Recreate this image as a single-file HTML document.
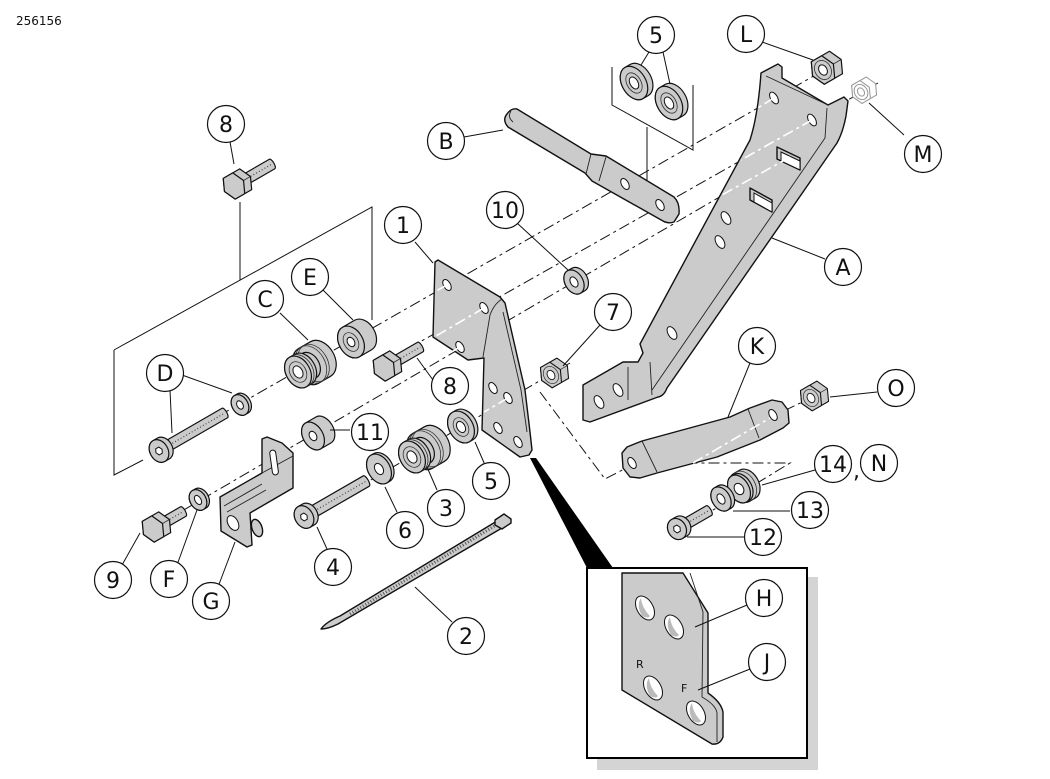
<!DOCTYPE html>
<html><head><meta charset="utf-8">
<style>
html,body{margin:0;padding:0;background:#fff;}
svg{display:block;}
text{font-family:"DejaVu Sans","Liberation Sans",sans-serif;fill:#111;}
.p path,.p ellipse,.p polygon,.p rect{fill:#cbcbcb;stroke:#111;stroke-width:1.2;stroke-linejoin:round;}
.p .h,.h{fill:#fff;stroke:#111;stroke-width:1;}
.p .n{fill:none;stroke:#333;stroke-width:0.8;}
.p .t{fill:none;stroke:#444;stroke-dasharray:1 2.2;}
.big{fill:#cbcbcb;stroke:#111;stroke-width:1.4;stroke-linejoin:round;}
.fl{fill:none;stroke:#222;stroke-width:0.9;}
.d{fill:none;stroke:#111;stroke-width:1;stroke-dasharray:11 4 3 4;}
.w{fill:none;stroke:#fff;stroke-width:1.6;stroke-dasharray:11 4 3 4;}
.ld{fill:none;stroke:#111;stroke-width:1;}
.c circle{fill:#fff;stroke:#111;stroke-width:1.2;}
.c text{font-size:22px;text-anchor:middle;}
</style></head><body>
<svg width="1050" height="779" viewBox="0 0 1050 779" xmlns="http://www.w3.org/2000/svg">
<text x="16" y="25" font-size="12">256156</text>

<path class="ld" d="M612,67 V105 L693,150 V85 M647,127 V182"/>
<path class="ld" d="M114,350 V475 L143,460 M114,350 L372,207 V320 M240,202 V280"/>

<path class="d" d="M840,61 L222,414"/>
<path class="d" d="M878,83 L418,343"/>
<path class="d" d="M800,150 L170,518"/>
<path class="d" d="M570,363 L364,484"/>
<path class="d" d="M540,392 L605,479 L634,464"/>
<path class="d" d="M700,518 L790,463 L693,463 L773,416 L815,396"/>

<!-- Bracket A -->
<path class="big" d="M761,73 L778,64 L782,67 L782,78 L828,105 L844,97 L848,101 L846,116 Q843,132 837,143 L667,388 Q664,396 658,397 L590,422 L583,420 L583,385 L623,362 L638,362 L643,353 L640,344 L750,140 Q758,115 761,73 Z"/>
<path class="fl" d="M827,108 L825,138 L652,390 M628,367 V400 M650,362 L652,395 M766,76 L828,105"/>
<g>
<ellipse class="h" cx="774" cy="98" rx="3.5" ry="6.5" transform="rotate(-30 774 98)"/>
<ellipse class="h" cx="812" cy="120" rx="3.5" ry="6.5" transform="rotate(-30 812 120)"/>
<polygon class="big" points="777,147 800,158 800,170 777,159"/>
<polygon class="h" points="781,152 800,161 800,170 781,161"/>
<polygon class="big" points="750,188 772,200 772,212 750,200"/>
<polygon class="h" points="754,193 772,203 772,212 754,202"/>
<ellipse class="h" cx="726" cy="218" rx="4" ry="7" transform="rotate(-30 726 218)"/>
<ellipse class="h" cx="720" cy="242" rx="4" ry="7" transform="rotate(-30 720 242)"/>
<ellipse class="h" cx="672" cy="333" rx="4" ry="7" transform="rotate(-30 672 333)"/>
<ellipse class="h" cx="599" cy="402" rx="4" ry="7" transform="rotate(-30 599 402)"/>
<ellipse class="h" cx="618" cy="390" rx="4" ry="7" transform="rotate(-30 618 390)"/>
</g>
<path class="w" d="M774,98 L756,109 M812,120 L741,160 M790,157 L722,195"/>

<!-- Bracket B -->
<path class="big" d="M517,109 L591,154 L606,156 L674,197 Q680,203 679,214 L674,222 Q668,224 663,221 L592,181 L585,173 L508,127 Q502,120 507,114 Q511,108 517,109 Z"/>
<path class="fl" d="M591,154 L586,174 M606,157 L599,181 M511,111 Q507,117 513,122"/>
<ellipse class="h" cx="625" cy="184" rx="3.5" ry="6" transform="rotate(-30 625 184)"/>
<ellipse class="h" cx="660" cy="205" rx="3.5" ry="6" transform="rotate(-30 660 205)"/>

<!-- Bracket 1 -->
<path class="big" d="M433,337 L435,262 L438,260 L500,297 L505,303 L525,390 L530,432 L532,450 L529,455 L520,457 L482,430 L484,358 L468,360 Z"/>
<path class="fl" d="M502,299 Q494,304 490,315 L483,357 M503,312 L521,390 L527,432"/>
<g>
<ellipse class="h" cx="447" cy="285" rx="3.5" ry="6" transform="rotate(-30 447 285)"/>
<ellipse class="h" cx="484" cy="308" rx="3.5" ry="6" transform="rotate(-30 484 308)"/>
<ellipse class="h" cx="460" cy="347" rx="3.5" ry="6" transform="rotate(-30 460 347)"/>
<ellipse class="h" cx="493" cy="388" rx="3.5" ry="6" transform="rotate(-30 493 388)"/>
<ellipse class="h" cx="508" cy="398" rx="3.5" ry="6" transform="rotate(-30 508 398)"/>
<ellipse class="h" cx="498" cy="428" rx="3.5" ry="6" transform="rotate(-30 498 428)"/>
<ellipse class="h" cx="518" cy="442" rx="3.5" ry="6" transform="rotate(-30 518 442)"/>
</g>
<path class="w" d="M447,285 L436,291 M484,308 L436,336 M460,347 L448,354 M508,398 L484,412"/>

<!-- Link K -->
<path class="big" d="M622,453 L627,447 L642,441 L730,417 L750,408 L772,400 L782,402 L788,410 L789,423 L783,428 L760,440 L717,457 L657,473 L640,478 L630,477 L623,468 Z"/>
<path class="fl" d="M642,441 L657,472 M748,409 L759,438"/>
<ellipse class="h" cx="632" cy="463" rx="3.5" ry="6" transform="rotate(-30 632 463)"/>
<ellipse class="h" cx="773" cy="415" rx="3.5" ry="6" transform="rotate(-30 773 415)"/>
<path class="w" d="M693,463 L770,418"/>

<!-- Part G -->
<ellipse class="big" cx="257" cy="528" rx="5" ry="9" transform="rotate(-20 257 528)"/>
<path class="big" d="M262,473 L262,439 L267,437 L282,443 L293,453 L293,488 L250,513 L252,545 L247,547 L221,531 L220,497 Z"/>
<path class="fl" d="M224,506 L262,484 M227,512 L266,490 M262,473 L293,456"/>
<rect class="h" x="271" y="450" width="6" height="25" rx="3" transform="rotate(-8 274 462)"/>
<ellipse class="h" cx="233" cy="523" rx="5" ry="8" transform="rotate(-30 233 523)"/>

<!-- Cable tie 2 -->
<path class="big" d="M321,629 Q326,622 340,616 L497,521 L502,528 L338,624 Q328,629 321,629 Z"/>
<path fill="none" stroke="#555" stroke-width="3" stroke-dasharray="1 2" d="M350,614 L496,525"/>
<polygon class="big" points="495,520 504,514 511,519 511,523 502,529 495,525"/>

<!-- Washers 5 top -->
<g class="p" transform="translate(634,83) rotate(-30)"><path d="M0,-18 H6 A12,18 0 0 1 6,18 H0 A12,18 0 0 1 0,-18 Z"/><ellipse rx="12" ry="18"/><ellipse class="n" rx="7" ry="11"/><ellipse class="h" rx="4" ry="6.5"/></g>
<g class="p" transform="translate(669,103) rotate(-30)"><path d="M0,-18 H6 A12,18 0 0 1 6,18 H0 A12,18 0 0 1 0,-18 Z"/><ellipse rx="12" ry="18"/><ellipse class="n" rx="7" ry="11"/><ellipse class="h" rx="4" ry="6.5"/></g>

<!-- Nut L -->
<g class="p" transform="translate(823,70) rotate(-30)"><polygon points="-12,0 -6,-13 15,-13 21,0 15,13 -6,13"/><path class="n" d="M12,0 H21"/><polygon points="12,0 6,13 -6,13 -12,0 -6,-13 6,-13"/><ellipse class="n" rx="8" ry="10"/><ellipse class="h" rx="4" ry="5.5"/></g>
<!-- Nut M -->
<g transform="translate(861,92) rotate(-30) scale(0.8)" fill="#fff" stroke="#999" stroke-width="1.3"><polygon points="-12,0 -6,-13 15,-13 21,0 15,13 -6,13"/><polygon points="12,0 6,13 -6,13 -12,0 -6,-13 6,-13"/><ellipse rx="8" ry="10"/><ellipse rx="4" ry="5.5"/></g>
<!-- Nut 7 -->
<g class="p" transform="translate(551,375) rotate(-30) scale(0.9)"><polygon points="-12,0 -6,-13 15,-13 21,0 15,13 -6,13"/><path class="n" d="M12,0 H21"/><polygon points="12,0 6,13 -6,13 -12,0 -6,-13 6,-13"/><ellipse class="n" rx="8" ry="10"/><ellipse class="h" rx="4" ry="5.5"/></g>
<!-- Nut O -->
<g class="p" transform="translate(811,398) rotate(-30) scale(0.9)"><polygon points="-12,0 -6,-13 15,-13 21,0 15,13 -6,13"/><path class="n" d="M12,0 H21"/><polygon points="12,0 6,13 -6,13 -12,0 -6,-13 6,-13"/><ellipse class="n" rx="8" ry="10"/><ellipse class="h" rx="4" ry="5.5"/></g>

<!-- Washer 10 -->
<g class="p" transform="translate(574,282) rotate(-30)"><path d="M0,-13 H5 A9,13 0 0 1 5,13 H0 A9,13 0 0 1 0,-13 Z"/><ellipse rx="9" ry="13"/><ellipse class="h" rx="3.5" ry="5.5"/></g>

<!-- Bolt 8 top -->
<g class="p" transform="translate(234,186) rotate(-30)"><path d="M12,-5.5 H44 A2,5.5 0 0 1 44,5.5 H12 Z"/><path class="t" stroke-width="10" d="M16,0 H44"/><polygon points="-11,0 -5.5,-12 13.5,-12 19,0 13.5,12 -5.5,12"/><path class="n" d="M11,0 H19"/><polygon points="11,0 5.5,12 -5.5,12 -11,0 -5.5,-12 5.5,-12"/></g>

<!-- Spacer E -->
<g class="p" transform="translate(351,342) rotate(-30)"><path d="M0,-17 H14 A12,17 0 0 1 14,17 H0 A12,17 0 0 1 0,-17 Z"/><ellipse rx="12" ry="17"/><ellipse class="n" rx="7" ry="10"/><ellipse class="h" rx="3.5" ry="5"/></g>

<!-- Grommet C -->
<g class="p" transform="translate(298,372) rotate(-30)"><path d="M12,-20 H26 A14,20 0 0 1 26,20 H12 A14,20 0 0 1 12,-20 Z"/><ellipse class="n" cx="15" rx="14" ry="20"/><ellipse class="n" cx="18" rx="14" ry="20"/><path d="M6,-14 H13 A10,14 0 0 1 13,14 H6 A10,14 0 0 1 6,-14 Z"/><path d="M0,-17 H6 A12,17 0 0 1 6,17 H0 A12,17 0 0 1 0,-17 Z"/><ellipse class="n" cx="3" rx="12" ry="17"/><ellipse rx="12" ry="17"/><ellipse class="n" rx="8" ry="11"/><ellipse class="h" rx="4.5" ry="6.5"/></g>

<!-- Washer D -->
<g class="p" transform="translate(240,405) rotate(-30)"><path d="M0,-11 H3 A8,11 0 0 1 3,11 H0 A8,11 0 0 1 0,-11 Z"/><ellipse rx="8" ry="11"/><ellipse class="h" rx="3" ry="4.5"/></g>
<!-- Bolt D -->
<g class="p" transform="translate(159,451) rotate(-30)"><path d="M4,-5.5 H76 A2,5.5 0 0 1 76,5.5 H4 Z"/><path class="t" stroke-width="10" d="M9,0 H76"/><path d="M0,-12 H5 A9,12 0 0 1 5,12 H0 A9,12 0 0 1 0,-12 Z"/><ellipse rx="9" ry="12"/><polygon class="h" points="3.5,0 1.8,3.5 -1.8,3.5 -3.5,0 -1.8,-3.5 1.8,-3.5"/></g>

<!-- Bolt 8 mid -->
<g class="p" transform="translate(384,368) rotate(-30)"><path d="M12,-5.5 H42 A2,5.5 0 0 1 42,5.5 H12 Z"/><path class="t" stroke-width="10" d="M16,0 H42"/><polygon points="-11,0 -5.5,-12 13.5,-12 19,0 13.5,12 -5.5,12"/><path class="n" d="M11,0 H19"/><polygon points="11,0 5.5,12 -5.5,12 -11,0 -5.5,-12 5.5,-12"/></g>

<!-- Spacer 11 -->
<g class="p" transform="translate(313,436) rotate(-30)"><path d="M0,-15 H12 A10,15 0 0 1 12,15 H0 A10,15 0 0 1 0,-15 Z"/><ellipse rx="10" ry="15"/><ellipse class="h" rx="3.5" ry="5"/></g>

<!-- Washer F -->
<g class="p" transform="translate(198,500) rotate(-30)"><path d="M0,-11 H3 A8,11 0 0 1 3,11 H0 A8,11 0 0 1 0,-11 Z"/><ellipse rx="8" ry="11"/><ellipse class="h" rx="3" ry="5"/></g>
<!-- Bolt 9 -->
<g class="p" transform="translate(153,529) rotate(-30)"><path d="M12,-5.5 H35 A2,5.5 0 0 1 35,5.5 H12 Z"/><path class="t" stroke-width="10" d="M16,0 H35"/><polygon points="-11,0 -5.5,-12 13.5,-12 19,0 13.5,12 -5.5,12"/><path class="n" d="M11,0 H19"/><polygon points="11,0 5.5,12 -5.5,12 -11,0 -5.5,-12 5.5,-12"/></g>

<!-- Washer 5 mid -->
<g class="p" transform="translate(461,427) rotate(-30)"><path d="M0,-17 H4 A12,17 0 0 1 4,17 H0 A12,17 0 0 1 0,-17 Z"/><ellipse rx="12" ry="17"/><ellipse class="n" rx="7" ry="10"/><ellipse class="h" rx="4" ry="6"/></g>
<!-- Grommet 3 -->
<g class="p" transform="translate(412,457) rotate(-30)"><path d="M12,-20 H26 A14,20 0 0 1 26,20 H12 A14,20 0 0 1 12,-20 Z"/><ellipse class="n" cx="15" rx="14" ry="20"/><ellipse class="n" cx="18" rx="14" ry="20"/><path d="M6,-14 H13 A10,14 0 0 1 13,14 H6 A10,14 0 0 1 6,-14 Z"/><path d="M0,-17 H6 A12,17 0 0 1 6,17 H0 A12,17 0 0 1 0,-17 Z"/><ellipse class="n" cx="3" rx="12" ry="17"/><ellipse rx="12" ry="17"/><ellipse class="n" rx="8" ry="11"/><ellipse class="h" rx="4.5" ry="6.5"/></g>
<!-- Washer 6 -->
<g class="p" transform="translate(379,469) rotate(-30)"><path d="M0,-16 H3 A11,16 0 0 1 3,16 H0 A11,16 0 0 1 0,-16 Z"/><ellipse rx="11" ry="16"/><ellipse class="h" rx="4" ry="6"/></g>
<!-- Bolt 4 -->
<g class="p" transform="translate(304,517) rotate(-30)"><path d="M4,-6 H72 A2,6 0 0 1 72,6 H4 Z"/><path class="t" stroke-width="11" d="M9,0 H72"/><path d="M0,-12 H5 A9,12 0 0 1 5,12 H0 A9,12 0 0 1 0,-12 Z"/><ellipse rx="9" ry="12"/><polygon class="h" points="3.5,0 1.8,3.5 -1.8,3.5 -3.5,0 -1.8,-3.5 1.8,-3.5"/></g>

<!-- Grommet 14 -->
<g class="p" transform="translate(739,489) rotate(-30)"><path d="M3,-16 H10 A11,16 0 0 1 10,16 H3 A11,16 0 0 1 3,-16 Z"/><ellipse class="n" cx="6" rx="11" ry="16"/><path d="M0,-15 H3 A10,15 0 0 1 3,15 H0 A10,15 0 0 1 0,-15 Z"/><ellipse rx="10" ry="15"/><ellipse class="h" rx="4.5" ry="6"/></g>
<!-- Washer 13 -->
<g class="p" transform="translate(721,499) rotate(-30)"><path d="M0,-13 H4 A9,13 0 0 1 4,13 H0 A9,13 0 0 1 0,-13 Z"/><ellipse rx="9" ry="13"/><ellipse class="h" rx="3.5" ry="5.5"/></g>
<!-- Bolt 12 -->
<g class="p" transform="translate(677,529) rotate(-30)"><path d="M4,-5.5 H37 A2,5.5 0 0 1 37,5.5 H4 Z"/><path class="t" stroke-width="10" d="M9,0 H37"/><path d="M0,-11 H5 A9,11 0 0 1 5,11 H0 A9,11 0 0 1 0,-11 Z"/><ellipse rx="9" ry="11"/><polygon class="h" points="3.5,0 1.8,3.5 -1.8,3.5 -3.5,0 -1.8,-3.5 1.8,-3.5"/></g>

<!-- Inset detail -->
<polygon points="530,458 536,458 613,568 587,568" fill="#000"/>
<rect x="597" y="577" width="221" height="193" fill="#d4d4d4"/>
<rect x="587" y="568" width="220" height="190" fill="#fff" stroke="#000" stroke-width="2"/>
<path class="big" d="M622,573 L683,573 L708,613 L708,693 Q721,702 723,712 L723,737 Q720,745 712,744 L622,690 Z"/>
<path class="fl" d="M690,573 L703,612 L702,697 Q716,705 717,713 L717,742"/>
<g>
<ellipse class="h" cx="645" cy="608" rx="8" ry="13" transform="rotate(-30 645 608)"/>
<ellipse class="h" cx="674" cy="627" rx="8" ry="13" transform="rotate(-30 674 627)"/>
<ellipse class="h" cx="653" cy="688" rx="8" ry="13" transform="rotate(-30 653 688)"/>
<ellipse class="h" cx="696" cy="713" rx="8" ry="13" transform="rotate(-30 696 713)"/>
</g>
<path fill="#bbb" d="M641,598 Q636,605 642,616 Q648,619 650,616 Q642,608 641,598 Z"/>
<path fill="#bbb" d="M670,617 Q665,624 671,635 Q677,638 679,635 Q671,627 670,617 Z"/>
<path fill="#bbb" d="M649,678 Q644,685 650,696 Q656,699 658,696 Q650,688 649,678 Z"/>
<path fill="#bbb" d="M692,703 Q687,710 693,721 Q699,724 701,721 Q693,713 692,703 Z"/>
<text x="636" y="668" font-size="11">R</text>
<text x="681" y="692" font-size="11">F</text>

<path class="ld" d="M230,142 L234,164 M464,137 L503,130 M762,42 L813,60 M904,135 L869,103 M825,259 L772,238 M415,242 L433,263 M517,223 L568,270 M600,325 L563,366 M323,290 L353,320 M280,313 L308,340 M182,375 L232,393 M170,390 L172,433 M350,430 L330,430 M433,380 L417,358 M485,465 L475,442 M437,490 L427,467 M397,512 L385,487 M327,549 L317,527 M452,622 L415,587 M122,565 L140,533 M177,565 L197,510 M218,587 L235,542 M750,363 L728,417 M877,392 L830,397 M815,470 L762,485 M790,511 L733,511 M745,537 L687,537 M649,52 L641,65 M663,52 L670,84 M747,605 L695,627 M750,669 L698,690"/>

<g class="c">
<circle cx="656" cy="35" r="18.5"/><text x="656" y="43">5</text>
<circle cx="746" cy="34" r="18.5"/><text x="746" y="42">L</text>
<circle cx="446" cy="141" r="18.5"/><text x="446" y="149">B</text>
<circle cx="226" cy="124" r="18.5"/><text x="226" y="132">8</text>
<circle cx="310" cy="277" r="18.5"/><text x="310" y="285">E</text>
<circle cx="265" cy="299" r="18.5"/><text x="265" y="307">C</text>
<circle cx="403" cy="225" r="18.5"/><text x="403" y="233">1</text>
<circle cx="505" cy="210" r="18.5"/><text x="505" y="218">10</text>
<circle cx="613" cy="312" r="18.5"/><text x="613" y="320">7</text>
<circle cx="843" cy="267" r="18.5"/><text x="843" y="275">A</text>
<circle cx="923" cy="154" r="18.5"/><text x="923" y="162">M</text>
<circle cx="757" cy="346" r="18.5"/><text x="757" y="354">K</text>
<circle cx="896" cy="388" r="18.5"/><text x="896" y="396">O</text>
<circle cx="833" cy="464" r="18.5"/><text x="833" y="472">14</text>
<circle cx="879" cy="463" r="18.5"/><text x="879" y="471">N</text>
<circle cx="810" cy="510" r="18.5"/><text x="810" y="518">13</text>
<circle cx="763" cy="537" r="18.5"/><text x="763" y="545">12</text>
<circle cx="165" cy="373" r="18.5"/><text x="165" y="381">D</text>
<circle cx="370" cy="432" r="18.5"/><text x="370" y="440">11</text>
<circle cx="450" cy="386" r="18.5"/><text x="450" y="394">8</text>
<circle cx="446" cy="508" r="18.5"/><text x="446" y="516">3</text>
<circle cx="491" cy="481" r="18.5"/><text x="491" y="489">5</text>
<circle cx="405" cy="530" r="18.5"/><text x="405" y="538">6</text>
<circle cx="333" cy="567" r="18.5"/><text x="333" y="575">4</text>
<circle cx="466" cy="636" r="18.5"/><text x="466" y="644">2</text>
<circle cx="113" cy="580" r="18.5"/><text x="113" y="588">9</text>
<circle cx="169" cy="579" r="18.5"/><text x="169" y="587">F</text>
<circle cx="211" cy="601" r="18.5"/><text x="211" y="609">G</text>
<circle cx="764" cy="598" r="18.5"/><text x="764" y="606">H</text>
<circle cx="767" cy="662" r="18.5"/><text x="767" y="670">J</text>
</g>
<text x="853" y="478" font-size="22">,</text>
</svg>
</body></html>
